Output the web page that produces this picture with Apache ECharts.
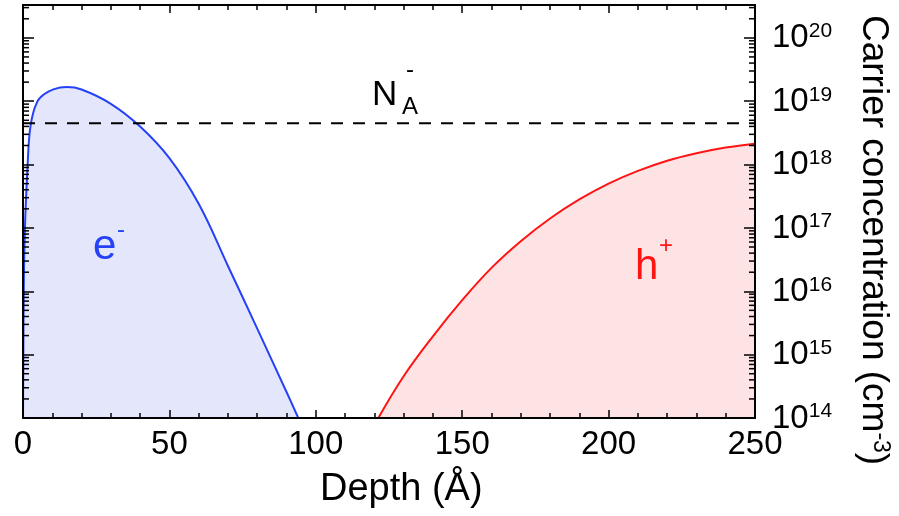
<!DOCTYPE html>
<html><head><meta charset="utf-8">
<script src="https://cdn.jsdelivr.net/npm/echarts@6/dist/echarts.min.js"></script>
<style>html,body{margin:0;padding:0;background:#fff}#c{width:899px;height:516px}</style>
</head><body><div id="c"></div>
<script>
// ---- data ----
const depthTicks = [0, 50, 100, 150, 200, 250];
const concDecades = [1e14, 1e15, 1e16, 1e17, 1e18, 1e19, 1e20];
const concMax = 3.3e20;
const electronDepth = [0, 0.3, 0.68, 1.02, 1.61, 2.05, 2.73, 3.76, 4.4, 5.23, 6.93, 10.35, 14.92, 20, 30, 40, 50, 60, 70, 80, 90, 94.02];
const electronConc = [1e14, 1.6e16, 1.04e17, 2.77e17, 1.06e18, 2.45e18, 4.55e18, 7.29e18, 8.7e18, 1.05e19, 1.26e19, 1.54e19, 1.67e19, 1.53e19, 9.1e18, 3.98e18, 1.26e18, 2.4e17, 2.51e16, 2.57e15, 2.57e14, 1.0e14];
const holeDepth = [121.35, 130, 140, 150, 160, 170, 180, 190, 200, 210, 220, 230, 240, 250];
const holeConc = [1.0e14, 4.57e14, 1.95e15, 7.24e15, 2.34e16, 6.17e16, 1.41e17, 2.82e17, 5.01e17, 7.94e17, 1.15e18, 1.51e18, 1.86e18, 2.14e18];
const acceptorConc = 4.5e18;
const minorMultipliers = [2, 3, 4, 5, 6, 7, 8, 9];

const xMin = depthTicks[0], xMax = depthTicks[depthTicks.length - 1];
const xInterval = depthTicks[1] - depthTicks[0];
const minorTickValues = [];
concDecades.forEach(d => minorMultipliers.forEach(m => { if (d * m <= concMax) minorTickValues.push(d * m); }));

const FONT = '"Liberation Sans", Arial, Helvetica, sans-serif';
const BLUE = '#2542f8', RED = '#ff1414';

const chart = echarts.init(document.getElementById('c'), null, {renderer: 'canvas'});

const xAxisBase = {
  type: 'value', min: xMin, max: xMax, interval: xInterval, z: 5,
  axisLine: {show: true, onZero: false, lineStyle: {color: '#000', width: 2}},
  axisTick: {show: true, inside: true, length: 8, lineStyle: {color: '#000', width: 1.5}},
  minorTick: {show: true, splitNumber: 5, length: 5, lineStyle: {color: '#000', width: 1.5}},
  splitLine: {show: false}
};
const yAxisBase = {
  type: 'log', logBase: 10, min: concDecades[0], max: concMax, z: 5,
  axisLine: {show: true, onZero: false, lineStyle: {color: '#000', width: 2}},
  axisTick: {show: true, inside: true, length: 11, lineStyle: {color: '#000', width: 1.5}},
  splitLine: {show: false}
};

chart.setOption({
  animation: false,
  backgroundColor: '#fff',
  grid: {left: 23, right: 144, top: 5, bottom: 98, outerBoundsMode: 'none'},
  xAxis: [
    Object.assign({}, xAxisBase, {
      position: 'bottom',
      axisLabel: {show: true, margin: 10, color: '#000', fontSize: 33, fontFamily: FONT}
    }),
    Object.assign({}, xAxisBase, {position: 'top', axisLabel: {show: false}})
  ],
  yAxis: [
    Object.assign({}, yAxisBase, {
      position: 'right',
      axisLabel: {
        show: true, margin: 17, showMaxLabel: false,
        formatter: v => '{b|10}{s|' + Math.round(Math.log10(v)) + '}',
        rich: {
          b: {fontSize: 33, fontFamily: FONT, color: '#000', lineHeight: 34, verticalAlign: 'bottom'},
          s: {fontSize: 21, fontFamily: FONT, color: '#000', lineHeight: 8, verticalAlign: 'top'}
        }
      }
    }),
    Object.assign({}, yAxisBase, {position: 'left', axisLabel: {show: false}})
  ],
  graphic: [
    {type: 'text', x: 320, y: 490, z: 10, style: {text: 'Depth (Å)', font: '38px ' + FONT, fill: '#000', align: 'left', verticalAlign: 'middle'}},
    {type: 'text', x: 873, y: 15, rotation: -Math.PI / 2, z: 10, style: {
      text: '{n|Carrier concentration (cm}{s|-3}{n|)}', align: 'left', verticalAlign: 'middle',
      rich: {
        n: {fontSize: 37, fontFamily: FONT, fill: '#000', lineHeight: 37, verticalAlign: 'bottom'},
        s: {fontSize: 23, fontFamily: FONT, fill: '#000', lineHeight: 8, verticalAlign: 'top'}
      }
    }},
    {type: 'text', x: 93, y: 247, z: 10, style: {text: 'e', font: '42px ' + FONT, fill: BLUE, align: 'left', verticalAlign: 'middle'}},
    {type: 'text', x: 117, y: 230, z: 10, style: {text: '-', font: '24px ' + FONT, fill: BLUE, align: 'left', verticalAlign: 'middle'}},
    {type: 'text', x: 635, y: 267, z: 10, style: {text: 'h', font: '42px ' + FONT, fill: RED, align: 'left', verticalAlign: 'middle'}},
    {type: 'text', x: 659, y: 246, z: 10, style: {text: '+', font: '24px ' + FONT, fill: RED, align: 'left', verticalAlign: 'middle'}},
    {type: 'text', x: 372, y: 95, z: 10, style: {text: 'N', font: '35px ' + FONT, fill: '#000', align: 'left', verticalAlign: 'middle'}},
    {type: 'text', x: 402, y: 107, z: 10, style: {text: 'A', font: '24px ' + FONT, fill: '#000', align: 'left', verticalAlign: 'middle'}},
    {type: 'text', x: 406, y: 70, z: 10, style: {text: '-', font: '24px ' + FONT, fill: '#000', align: 'left', verticalAlign: 'middle'}}
  ],
  series: [
    {
      name: 'e-', type: 'line', xAxisIndex: 0, yAxisIndex: 0, z: 2,
      data: electronDepth.map((x, i) => [x, electronConc[i]]),
      showSymbol: false, smooth: 0.4,
      lineStyle: {color: BLUE, width: 2},
      areaStyle: {color: '#e4e7fb', opacity: 1, origin: 'start'}
    },
    {
      name: 'h+', type: 'line', xAxisIndex: 0, yAxisIndex: 0, z: 2,
      data: holeDepth.map((x, i) => [x, holeConc[i]]),
      showSymbol: false, smooth: 0.4,
      lineStyle: {color: RED, width: 2},
      areaStyle: {color: '#fee3e5', opacity: 1, origin: 'start'}
    },
    {
      name: 'NA', type: 'line', xAxisIndex: 0, yAxisIndex: 0, z: 3,
      data: [[xMin, acceptorConc], [xMax, acceptorConc]],
      showSymbol: false,
      lineStyle: {color: '#000', width: 2, type: [12, 10]}
    },
    {
      name: 'minorTicks', type: 'custom', xAxisIndex: 0, yAxisIndex: 0, z: 6, clip: false,
      data: minorTickValues.map(v => [xMin, v]),
      renderItem: (params, api) => {
        const v = api.value(1);
        const l = api.coord([xMin, v]);
        const r = api.coord([xMax, v]);
        const st = {stroke: '#000', lineWidth: 1.5};
        return {type: 'group', children: [
          {type: 'line', shape: {x1: l[0], y1: l[1], x2: l[0] + 6, y2: l[1]}, style: st},
          {type: 'line', shape: {x1: r[0] - 6, y1: r[1], x2: r[0], y2: r[1]}, style: st}
        ]};
      }
    }
  ]
});
</script></body></html>
